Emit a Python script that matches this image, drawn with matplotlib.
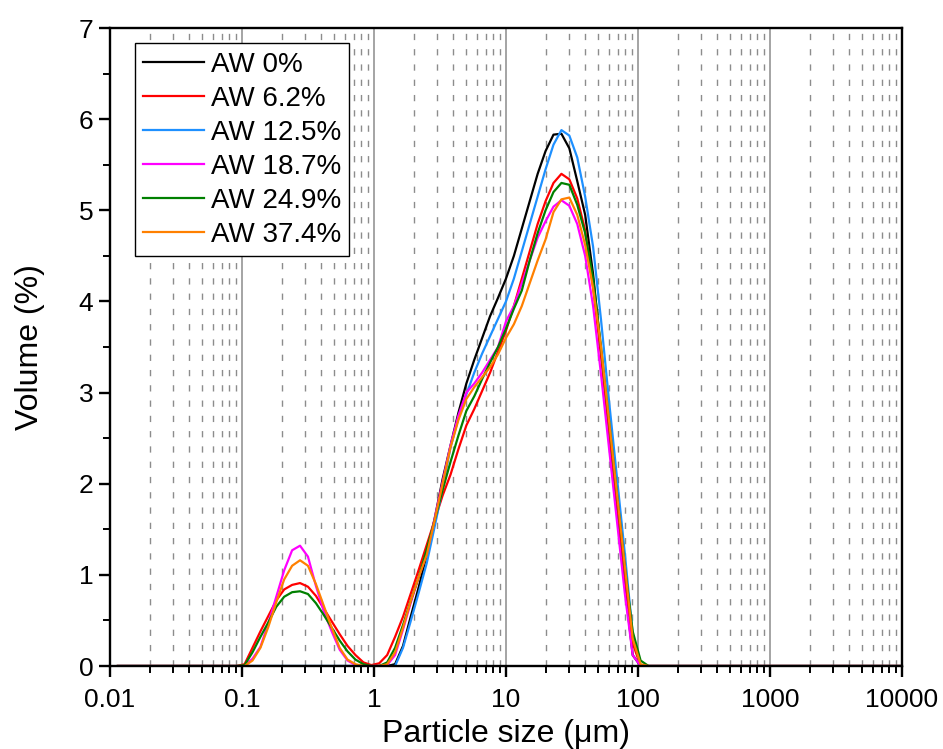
import matplotlib
matplotlib.use("Agg")
import matplotlib.pyplot as plt
from matplotlib.ticker import LogLocator, MultipleLocator, NullFormatter

plt.rcParams['font.family'] = ['Liberation Sans', 'DejaVu Sans']

# particle size classes (um)
sizes = [0.01148, 0.0912, 0.1047, 0.1202, 0.1380, 0.1585, 0.1820, 0.2089, 0.2399, 0.2754,
         0.3162, 0.3631, 0.4169, 0.4786, 0.5495, 0.6310, 0.7244, 0.8318, 0.9550, 1.0965,
         1.2589, 1.4454, 1.6596, 1.9055, 2.1878, 2.5119, 2.8840, 3.3113, 3.8019, 4.3652,
         5.0119, 5.7544, 6.6069, 7.5858, 8.7096, 10.000, 11.482, 13.183, 15.136, 17.378,
         19.953, 22.909, 26.303, 30.200, 34.674, 39.811, 45.709, 52.481, 60.256, 69.183,
         79.433, 91.201, 104.71, 120.23, 138.04, 10000]

aw_0 = [0, 0, 0, 0, 0, 0, 0, 0, 0, 0,
        0, 0, 0, 0, 0, 0, 0, 0, 0, 0,
        0, 0.02, 0.22, 0.55, 0.87, 1.22, 1.62, 2.05, 2.42, 2.78,
        3.10, 3.36, 3.60, 3.84, 4.04, 4.25, 4.50, 4.80, 5.10, 5.40,
        5.65, 5.83, 5.84, 5.68, 5.32, 4.95, 4.30, 3.45, 2.60, 1.75,
        0.90, 0.12, 0, 0, 0, 0]
aw_62 = [0, 0, 0.02, 0.20, 0.38, 0.55, 0.72, 0.84, 0.89, 0.91,
         0.87, 0.77, 0.63, 0.49, 0.35, 0.22, 0.12, 0.04, 0.01, 0.03,
         0.12, 0.32, 0.54, 0.80, 1.06, 1.33, 1.60, 1.87, 2.10, 2.38,
         2.64, 2.82, 3.02, 3.22, 3.45, 3.68, 3.95, 4.25, 4.55, 4.85,
         5.10, 5.30, 5.40, 5.34, 5.13, 4.78, 4.15, 3.40, 2.60, 1.80,
         1.00, 0.25, 0, 0, 0, 0]
aw_125 = [0, 0, 0, 0, 0, 0, 0, 0, 0, 0,
          0, 0, 0, 0, 0, 0, 0, 0, 0, 0,
          0, 0, 0.20, 0.50, 0.81, 1.13, 1.53, 1.95, 2.40, 2.72,
          2.98, 3.22, 3.43, 3.62, 3.81, 4.00, 4.25, 4.55, 4.85, 5.15,
          5.45, 5.72, 5.88, 5.82, 5.58, 5.15, 4.60, 3.80, 2.92, 2.08,
          1.24, 0.35, 0, 0, 0, 0]
aw_187 = [0, 0, 0, 0.08, 0.21, 0.47, 0.76, 1.05, 1.27, 1.32,
          1.20, 0.88, 0.60, 0.38, 0.18, 0.06, 0.01, 0, 0, 0,
          0.01, 0.12, 0.40, 0.70, 0.98, 1.24, 1.62, 2.02, 2.42, 2.75,
          3.00, 3.10, 3.22, 3.36, 3.50, 3.78, 3.95, 4.20, 4.45, 4.70,
          4.88, 5.04, 5.11, 5.05, 4.85, 4.50, 3.95, 3.20, 2.40, 1.60,
          0.80, 0.12, 0, 0, 0, 0]
aw_249 = [0, 0, 0.01, 0.15, 0.32, 0.48, 0.65, 0.76, 0.81, 0.82,
          0.79, 0.69, 0.56, 0.42, 0.28, 0.16, 0.07, 0.02, 0, 0,
          0.04, 0.20, 0.45, 0.72, 0.98, 1.28, 1.60, 1.93, 2.24, 2.53,
          2.80, 2.96, 3.15, 3.33, 3.50, 3.70, 3.92, 4.12, 4.45, 4.75,
          5.00, 5.20, 5.30, 5.28, 5.06, 4.75, 4.25, 3.50, 2.70, 1.90,
          1.10, 0.38, 0.06, 0, 0, 0]
aw_374 = [0, 0, 0, 0.06, 0.20, 0.43, 0.70, 0.95, 1.10, 1.16,
          1.10, 0.90, 0.66, 0.42, 0.20, 0.07, 0.02, 0, 0, 0,
          0.02, 0.15, 0.42, 0.72, 0.98, 1.22, 1.60, 2.00, 2.40, 2.70,
          2.93, 3.06, 3.17, 3.28, 3.42, 3.60, 3.75, 3.95, 4.20, 4.45,
          4.68, 4.98, 5.12, 5.14, 4.95, 4.62, 4.15, 3.50, 2.70, 1.90,
          1.10, 0.30, 0.02, 0, 0, 0]

series = [aw_0, aw_62, aw_125, aw_187, aw_249, aw_374]
labels = ['AW 0%', 'AW 6.2%', 'AW 12.5%', 'AW 18.7%', 'AW 24.9%', 'AW 37.4%']
colors = ['black', '#FF0000', '#1E90FF', '#FF00FF', '#008000', '#FF8000']

xticks = [0.01, 0.1, 1, 10, 100, 1000, 10000]
xticklabels = ['0.01', '0.1', '1', '10', '100', '1000', '10000']

fig = plt.figure(figsize=(9.43, 7.49), dpi=100)
ax = fig.add_axes([0.1166, 0.1108, 0.8399, 0.8518])

for vals, lab, col in zip(series, labels, colors):
    ax.plot(sizes, vals, color=col, lw=1.6, label=lab)

ax.set_xscale('log')
ax.set_xlim(0.01, 10000)
ax.set_ylim(0, 7)
ax.set_xticks(xticks, xticklabels)
ax.xaxis.set_minor_locator(LogLocator(base=10, subs=range(2, 10)))
ax.xaxis.set_minor_formatter(NullFormatter())
ax.yaxis.set_major_locator(MultipleLocator(1))
ax.yaxis.set_minor_locator(MultipleLocator(0.5))

ax.set_axisbelow(True)
ax.grid(which='major', axis='x', color='#8c8c8c', lw=1.1, ls='-')
ax.grid(which='minor', axis='x', color='#8c8c8c', lw=1.0, ls=(0, (4.5, 6.5)))

for sp in ax.spines.values():
    sp.set_linewidth(1.7)
ax.tick_params(which='major', direction='out', length=8, width=1.7,
               labelsize=19, top=False, right=False)
ax.tick_params(axis='x', which='major', pad=8)
ax.tick_params(axis='y', which='major', pad=4)
ax.tick_params(which='minor', direction='out', length=5, width=1.4,
               top=False, right=False)

ax.set_xlabel('Particle size (\u03bcm)', fontsize=23, labelpad=5)
ax.set_ylabel('Volume (%)', fontsize=23, labelpad=24)

leg = ax.legend(loc='upper left', bbox_to_anchor=(0.031, 0.976), fontsize=20,
                frameon=True, fancybox=False, edgecolor='black', framealpha=1,
                handlelength=2.2, handletextpad=0.25, labelspacing=0.29,
                borderpad=0.3, borderaxespad=0)
leg.get_frame().set_linewidth(1.0)

fig.savefig('out.png', dpi=100)
